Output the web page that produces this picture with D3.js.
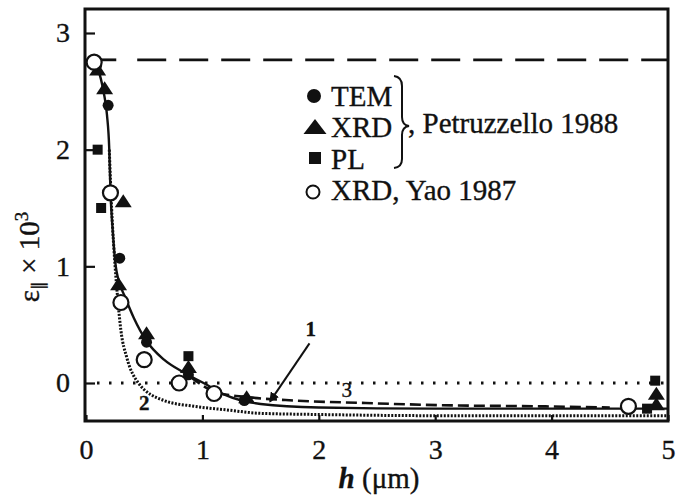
<!DOCTYPE html>
<html>
<head>
<meta charset="utf-8">
<script src="https://cdn.jsdelivr.net/npm/d3@7"></script>
<style>
  body { margin: 0; background: #fff; }
  text { font-family: "Liberation Serif", "Times New Roman", serif; fill: #111; stroke: #111; stroke-width: 0.35; }
</style>
</head>
<body>
<svg id="chart"></svg>
<script>
// curve 1 (solid), curve 2 (dotted), curve 3 (dashed)
const curve1H = [0.05, 0.1, 0.15, 0.18, 0.2, 0.21, 0.23, 0.25, 0.29, 0.33, 0.41, 0.52, 0.67, 0.84, 1.01, 1.19, 1.5, 2.0, 3.0, 4.0, 5.0];
const curve1E = [2.78, 2.7, 2.5, 2.3, 2.0, 1.65, 1.3, 1.05, 0.85, 0.75, 0.56, 0.36, 0.2, 0.09, 0.0, -0.1, -0.18, -0.21, -0.22, -0.22, -0.22];
const curve2H = [0.2, 0.22, 0.25, 0.27, 0.3, 0.35, 0.45, 0.67, 0.93, 1.2, 1.5, 2.0, 3.0, 5.0];
const curve2E = [2.0, 1.5, 1.0, 0.75, 0.45, 0.22, 0.0, -0.15, -0.2, -0.23, -0.26, -0.27, -0.28, -0.28];
const curve3H = [0.9, 1.12, 1.38, 1.78, 2.35, 3.04, 3.9, 4.5];
const curve3E = [0.05, -0.08, -0.12, -0.15, -0.17, -0.19, -0.2, -0.21];

// measured points
const temH = [0.09, 0.19, 0.29, 0.52, 0.88, 1.36];
const temE = [2.72, 2.38, 1.07, 0.35, 0.07, -0.15];
const xrdPH = [0.1, 0.16, 0.32, 0.28, 0.52, 0.88, 1.38, 4.9, 4.9];
const xrdPE = [2.68, 2.52, 1.55, 0.84, 0.42, 0.13, -0.13, -0.1, -0.19];
const plH = [0.1, 0.13, 0.88, 4.89, 4.82];
const plE = [2.0, 1.5, 0.23, 0.02, -0.22];
const xrdYH = [0.07, 0.21, 0.3, 0.5, 0.8, 1.1, 4.66];
const xrdYE = [2.75, 1.63, 0.69, 0.2, 0.0, -0.09, -0.2];

const saturation = 2.77;
const xTicks = [0, 1, 2, 3, 4, 5];
const yTicks = [0, 1, 2, 3];
const legendLabels = ["TEM", "XRD", "PL", "XRD,  Yao 1987"];
const braceLabel = ", Petruzzello 1988";

const W = 677, H = 499;
const frame = {left: 85, right: 668, top: 9, bottom: 421};

const svg = d3.select("#chart").attr("width", W).attr("height", H);

const x = d3.scaleLinear().domain([0, 5]).range([86, 668]);
const y = d3.scaleLinear().domain([0, 3]).range([383, 33]);

// y = 0 dotted line and saturation dashed line
svg.append("line")
   .attr("x1", frame.left + 12).attr("x2", frame.right)
   .attr("y1", y(0)).attr("y2", y(0))
   .attr("stroke", "#111").attr("stroke-width", 3)
   .attr("stroke-dasharray", "2.5,9.5");
svg.append("line")
   .attr("x1", x(0.44)).attr("x2", frame.right)
   .attr("y1", y(saturation)).attr("y2", y(saturation))
   .attr("stroke", "#111").attr("stroke-width", 2.8)
   .attr("stroke-dasharray", "29,13");
svg.append("line")
   .attr("x1", x(0.12)).attr("x2", x(0.26))
   .attr("y1", y(saturation)).attr("y2", y(saturation))
   .attr("stroke", "#111").attr("stroke-width", 2.8);

const line = d3.line().x(d => x(d[0])).y(d => y(d[1])).curve(d3.curveMonotoneX);
const zip = (a, b) => a.map((v, i) => [v, b[i]]);

svg.append("path").datum(zip(curve2H, curve2E)).attr("d", line)
   .attr("fill", "none").attr("stroke", "#111").attr("stroke-width", 3)
   .attr("stroke-dasharray", "2,1.5");
svg.append("path").datum(zip(curve3H, curve3E)).attr("d", line)
   .attr("fill", "none").attr("stroke", "#111").attr("stroke-width", 2.6)
   .attr("stroke-dasharray", "11,5");
svg.append("path").datum(zip(curve1H, curve1E)).attr("d", line)
   .attr("fill", "none").attr("stroke", "#111").attr("stroke-width", 2.4);

// markers
const tri = (w, h) => `M0,${-h * 0.6}L${w / 2},${h * 0.4}L${-w / 2},${h * 0.4}Z`;
svg.selectAll(".tri").data(zip(xrdPH, xrdPE)).enter().append("path")
   .attr("transform", d => `translate(${x(d[0])},${y(d[1])})`)
   .attr("d", tri(17, 13)).attr("fill", "#111");
svg.selectAll(".sq").data(zip(plH, plE)).enter().append("rect")
   .attr("x", d => x(d[0]) - 5).attr("y", d => y(d[1]) - 5)
   .attr("width", 10).attr("height", 10).attr("fill", "#111");
svg.selectAll(".tem").data(zip(temH, temE)).enter().append("circle")
   .attr("cx", d => x(d[0])).attr("cy", d => y(d[1])).attr("r", 5.5).attr("fill", "#111");
svg.selectAll(".yao").data(zip(xrdYH, xrdYE)).enter().append("circle")
   .attr("cx", d => x(d[0])).attr("cy", d => y(d[1])).attr("r", 7.5)
   .attr("fill", "#fff").attr("stroke", "#111").attr("stroke-width", 2.2);

// frame
svg.append("rect").attr("x", frame.left).attr("y", frame.top)
   .attr("width", frame.right - frame.left).attr("height", frame.bottom - frame.top)
   .attr("fill", "none").attr("stroke", "#111").attr("stroke-width", 3);

// axes with inward ticks
const xAxis = svg.append("g").attr("transform", `translate(0,${frame.bottom})`)
   .call(d3.axisBottom(x).tickValues(xTicks).tickSize(-6).tickPadding(18).tickFormat(d3.format("d")));
const yAxis = svg.append("g").attr("transform", `translate(${frame.left},0)`)
   .call(d3.axisLeft(y).tickValues(yTicks).tickSize(-10).tickPadding(15).tickFormat(d3.format("d")));
[xAxis, yAxis].forEach(g => {
  g.select(".domain").remove();
  g.selectAll("line").attr("stroke", "#111").attr("stroke-width", 2.2);
  g.selectAll("text").attr("font-size", 28).attr("fill", "#111");
});

// curve labels and arrow
svg.append("text").attr("x", x(0.5)).attr("y", y(-0.23)).attr("text-anchor", "middle")
   .attr("font-size", 21).attr("font-weight", "bold").text("2");
svg.append("text").attr("x", x(2.24)).attr("y", y(-0.12)).attr("text-anchor", "middle")
   .attr("font-size", 21).text("3");
svg.append("text").attr("x", x(1.93)).attr("y", y(0.4)).attr("text-anchor", "middle")
   .attr("font-size", 21).attr("font-weight", "bold").text("1");
svg.append("defs").append("marker").attr("id", "ah")
   .attr("viewBox", "0 0 10 10").attr("refX", 9).attr("refY", 5)
   .attr("markerWidth", 5).attr("markerHeight", 5).attr("orient", "auto")
   .append("path").attr("d", "M0,0L10,5L0,10z").attr("fill", "#111");
svg.append("line")
   .attr("x1", x(1.92)).attr("y1", y(0.34))
   .attr("x2", x(1.58)).attr("y2", y(-0.16))
   .attr("stroke", "#111").attr("stroke-width", 2).attr("marker-end", "url(#ah)");

// legend
const lg = svg.append("g");
const rowY = [96, 127, 159, 190];
lg.append("circle").attr("cx", 314).attr("cy", rowY[0]).attr("r", 7).attr("fill", "#111");
lg.append("path").attr("transform", `translate(315,${rowY[1] + 1})`).attr("d", tri(23, 15)).attr("fill", "#111");
lg.append("rect").attr("x", 309).attr("y", rowY[2] - 7).attr("width", 12).attr("height", 12).attr("fill", "#111");
lg.append("circle").attr("cx", 313).attr("cy", rowY[3] + 2).attr("r", 6.5).attr("fill", "#fff").attr("stroke", "#111").attr("stroke-width", 2);
legendLabels.forEach((t, i) => {
  lg.append("text").attr("x", 331).attr("y", rowY[i] + 10).attr("font-size", 29).text(t);
});
// brace
lg.append("path")
  .attr("d", "M394,76 Q402,77 402,86 L402,117 Q402,125 409,126 Q402,127 402,135 L402,159 Q402,167 394,168")
  .attr("fill", "none").attr("stroke", "#111").attr("stroke-width", 2);
lg.append("text").attr("x", 408).attr("y", 133).attr("font-size", 29).text(braceLabel);

// axis titles
const xt = svg.append("text").attr("x", 379).attr("y", 488).attr("text-anchor", "middle").attr("font-size", 29);
xt.append("tspan").attr("font-style", "italic").attr("font-weight", "bold").text("h");
xt.append("tspan").text("  (\u03bcm)");

const yt = svg.append("text").attr("transform", "translate(39,257) rotate(-90)")
   .attr("text-anchor", "middle").attr("font-size", 29);
yt.append("tspan").text("\u03b5");
yt.append("tspan").attr("font-size", 17).attr("dy", 5).text("\u2225");
yt.append("tspan").attr("dy", -5).text(" \u00d7 10");
yt.append("tspan").attr("font-size", 19).attr("dy", -11).text("3");
</script>
</body>
</html>
